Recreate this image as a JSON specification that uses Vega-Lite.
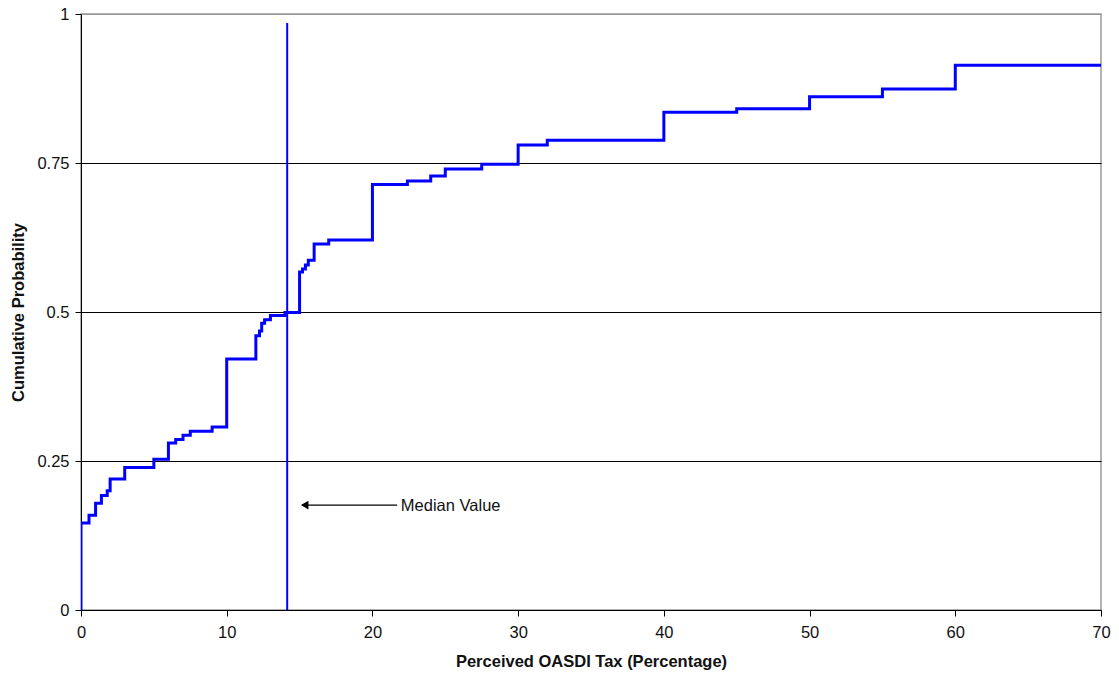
{
  "$schema": "https://vega.github.io/schema/vega-lite/v6.json",
  "width": 1020,
  "height": 596,
  "autosize": {"type": "none"},
  "padding": {"left": 81, "top": 14, "right": 18, "bottom": 69},
  "background": "white",
  "config": {
    "view": {"stroke": "#999999", "strokeWidth": 1.5},
    "font": "Liberation Sans"
  },
  "layer": [
    {
      "data": {"values": [
        {"tax": 0, "prob": 0},
        {"tax": 0, "prob": 0.146},
        {"tax": 0.55, "prob": 0.159},
        {"tax": 1.0, "prob": 0.179},
        {"tax": 1.4, "prob": 0.192},
        {"tax": 1.8, "prob": 0.2},
        {"tax": 2.0, "prob": 0.22},
        {"tax": 3.0, "prob": 0.239},
        {"tax": 5.0, "prob": 0.253},
        {"tax": 6.0, "prob": 0.28},
        {"tax": 6.5, "prob": 0.286},
        {"tax": 7.0, "prob": 0.293},
        {"tax": 7.5, "prob": 0.3},
        {"tax": 9.0, "prob": 0.307},
        {"tax": 10.0, "prob": 0.421},
        {"tax": 12.0, "prob": 0.46},
        {"tax": 12.25, "prob": 0.468},
        {"tax": 12.4, "prob": 0.481},
        {"tax": 12.6, "prob": 0.487},
        {"tax": 13.0, "prob": 0.494},
        {"tax": 14.0, "prob": 0.499},
        {"tax": 15.0, "prob": 0.567},
        {"tax": 15.2, "prob": 0.572},
        {"tax": 15.4, "prob": 0.579},
        {"tax": 15.6, "prob": 0.587},
        {"tax": 16.0, "prob": 0.614},
        {"tax": 17.0, "prob": 0.621},
        {"tax": 20.0, "prob": 0.714},
        {"tax": 22.4, "prob": 0.72},
        {"tax": 24.0, "prob": 0.728},
        {"tax": 25.0, "prob": 0.74},
        {"tax": 27.5, "prob": 0.748},
        {"tax": 30.0, "prob": 0.78},
        {"tax": 32.0, "prob": 0.788},
        {"tax": 40.0, "prob": 0.835},
        {"tax": 45.0, "prob": 0.841},
        {"tax": 50.0, "prob": 0.861},
        {"tax": 55.0, "prob": 0.874},
        {"tax": 60.0, "prob": 0.914},
        {"tax": 70.0, "prob": 0.914}
      ]},
      "mark": {"type": "line", "interpolate": "step-after", "color": "#0000FF", "strokeWidth": 3, "clip": true},
      "encoding": {
        "x": {
          "field": "tax", "type": "quantitative",
          "scale": {"domain": [0, 70], "nice": false, "zero": true},
          "axis": {
            "title": "Perceived OASDI Tax (Percentage)",
            "values": [0, 10, 20, 30, 40, 50, 60, 70],
            "grid": false,
            "labelFlush": false,
            "labelFont": "Liberation Sans",
            "titleFont": "Liberation Sans",
            "labelFontSize": 16.5,
            "titleFontSize": 16.5,
            "titleFontWeight": "bold",
            "labelColor": "#111111",
            "titleColor": "#111111",
            "domainColor": "#000000",
            "tickColor": "#000000",
            "tickSize": 6,
            "labelPadding": 8,
            "titlePadding": 13
          }
        },
        "y": {
          "field": "prob", "type": "quantitative",
          "scale": {"domain": [0, 1], "nice": false},
          "axis": {
            "title": "Cumulative Probability",
            "values": [0, 0.25, 0.5, 0.75, 1],
            "format": ".2~f",
            "grid": true,
            "labelFlush": false,
            "gridColor": {"condition": {"test": "datum.value >= 1", "value": "#999999"}, "value": "#000000"},
            "gridOpacity": 1,
            "labelFont": "Liberation Sans",
            "titleFont": "Liberation Sans",
            "labelFontSize": 16.5,
            "titleFontSize": 16.5,
            "titleFontWeight": "bold",
            "labelColor": "#111111",
            "titleColor": "#111111",
            "domainColor": "#000000",
            "tickColor": "#000000",
            "tickSize": 6,
            "labelPadding": 6,
            "titlePadding": 10
          }
        }
      }
    },
    {
      "data": {"values": [{"median": 14.15, "lo": 0, "hi": 0.985}]},
      "mark": {"type": "rule", "color": "#0000FF", "strokeWidth": 2},
      "encoding": {
        "x": {"field": "median", "type": "quantitative"},
        "y": {"field": "lo", "type": "quantitative"},
        "y2": {"field": "hi"}
      }
    },
    {
      "data": {"values": [{"x1": 15.2, "x2": 21.7, "y": 0.176}]},
      "mark": {"type": "rule", "color": "#000000", "strokeWidth": 1.3},
      "encoding": {
        "x": {"field": "x1", "type": "quantitative"},
        "x2": {"field": "x2"},
        "y": {"field": "y", "type": "quantitative"}
      }
    },
    {
      "data": {"values": [{"x": 15.35, "y": 0.176}]},
      "mark": {"type": "point", "shape": "triangle-left", "filled": true, "color": "#000000", "opacity": 1, "size": 75},
      "encoding": {
        "x": {"field": "x", "type": "quantitative"},
        "y": {"field": "y", "type": "quantitative"}
      }
    },
    {
      "data": {"values": [{"x": 21.95, "y": 0.175, "label": "Median Value"}]},
      "mark": {"type": "text", "align": "left", "baseline": "middle", "fontSize": 16.5, "font": "Liberation Sans", "color": "#111111"},
      "encoding": {
        "x": {"field": "x", "type": "quantitative"},
        "y": {"field": "y", "type": "quantitative"},
        "text": {"field": "label"}
      }
    }
  ]
}
